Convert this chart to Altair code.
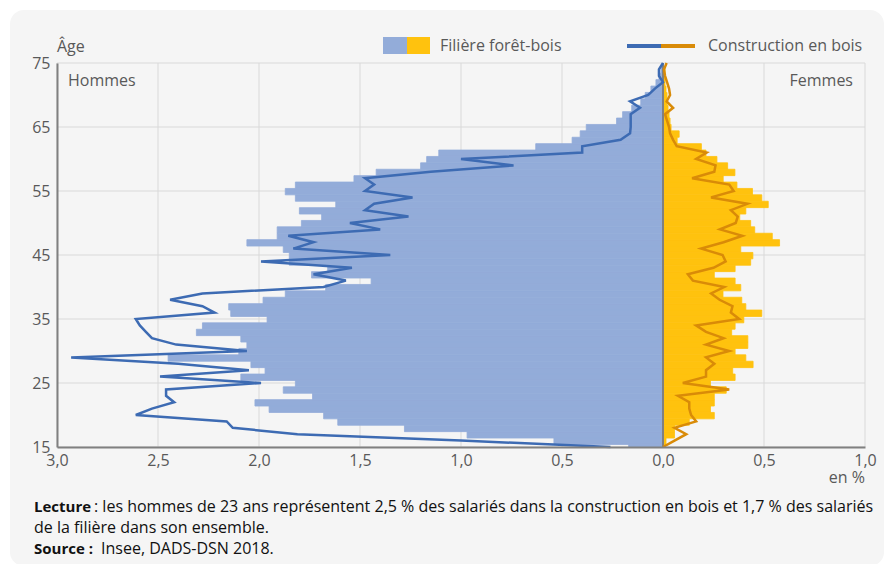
import altair as alt
import pandas as pd

# ---------------- data ----------------
ages_bar = list(range(15, 75))
men_filiere = [0.17, 0.54, 0.97, 1.28, 1.61, 1.68, 1.95, 2.02, 1.735, 1.88,
               1.82, 2.09, 1.97, 2.04, 2.45, 2.10, 2.06, 2.09, 2.31, 2.28,
               1.96, 2.14, 2.15, 1.98, 1.87, 1.67, 1.445, 1.74, 1.66, 1.85,
               1.85, 1.88, 2.06, 1.91, 1.91, 1.79, 1.69, 1.80, 1.62, 1.82,
               1.87, 1.82, 1.53, 1.42, 1.20, 1.17, 1.11, 0.63, 0.45, 0.41,
               0.38, 0.23, 0.20, 0.155, 0.11, 0.088, 0.06, 0.035, 0.02, 0.01]
women_filiere = [0.01, 0.015, 0.057, 0.057, 0.13, 0.254, 0.235, 0.254, 0.254, 0.313,
                 0.235, 0.357, 0.345, 0.446, 0.41, 0.357, 0.42, 0.42, 0.34, 0.357,
                 0.40, 0.489, 0.41, 0.39, 0.297, 0.385, 0.357, 0.254, 0.357, 0.434,
                 0.445, 0.385, 0.577, 0.541, 0.454, 0.434, 0.38, 0.41, 0.521, 0.489,
                 0.443, 0.366, 0.298, 0.356, 0.32, 0.267, 0.213, 0.19, 0.07, 0.08,
                 0.04, 0.035, 0.03, 0.025, 0.02, 0.02, 0.015, 0.01, 0.01, 0.01]

ages_line = list(range(15, 76))
men_construction = [0.26, 1.00, 1.81, 2.13, 2.16, 2.61, 2.53, 2.42, 2.46, 2.46,
                    1.99, 2.49, 2.05, 2.40, 2.93, 2.06, 2.41, 2.53, 2.56, 2.59,
                    2.61, 2.22, 2.28, 2.44, 2.28, 1.68, 1.57, 1.73, 1.54, 1.99,
                    1.35, 1.83, 1.73, 1.855, 1.40, 1.55, 1.26, 1.475, 1.43, 1.24,
                    1.475, 1.43, 1.475, 1.15, 0.74, 1.00, 0.40, 0.40, 0.21, 0.163,
                    0.16, 0.16, 0.16, 0.114, 0.163, 0.073, 0.04, 0.0, 0.02, 0.02, 0.0]
women_construction = [0.0, 0.057, 0.115, 0.057, 0.164, 0.139, 0.13, 0.13, 0.074, 0.328,
                      0.098, 0.213, 0.213, 0.254, 0.213, 0.328, 0.213, 0.30, 0.213, 0.164,
                      0.377, 0.336, 0.344, 0.28, 0.238, 0.303, 0.148, 0.123, 0.25, 0.31,
                      0.295, 0.189, 0.30, 0.393, 0.282, 0.36, 0.37, 0.336, 0.418, 0.238,
                      0.35, 0.328, 0.144, 0.254, 0.26, 0.164, 0.216, 0.068, 0.05, 0.035,
                      0.03, 0.02, 0.01, 0.05, 0.018, 0.035, 0.03, 0.02, 0.01, 0.005, 0.018]

x_ticks = [-3.0, -2.5, -2.0, -1.5, -1.0, -0.5, 0.0, 0.5, 1.0]
y_ticks = [15, 25, 35, 45, 55, 65, 75]

FONT = "Open Sans"
GREY = "#595959"
DARK = "#111111"
BLUE_BAR = "#93acd9"
YELLOW_BAR = "#ffc20e"
BLUE_LINE = "#3d6bb3"
ORANGE_LINE = "#d98b08"
GRID = "#d9d9d9"
FS = 16

bars = pd.DataFrame({"age": ages_bar, "men": men_filiere, "women": women_filiere})
lines = pd.DataFrame({"age": ages_line, "men": men_construction, "women": women_construction})

xscale = alt.Scale(domain=[-3, 1], nice=False, zero=False)
yscale = alt.Scale(domain=[15, 75], nice=False, zero=False)

x_axis = alt.Axis(values=x_ticks, title=None, grid=False, zindex=1,
                  ticks=False, domainColor="#808080", domainWidth=2, labelFlush=False,
                  labelExpr="replace(format(abs(datum.value), '.1f'), '.', ',')",
                  labelFont=FONT, labelFontSize=FS, labelColor=GREY, labelPadding=5)
y_axis = alt.Axis(values=y_ticks, title=None, grid=False, zindex=1,
                  ticks=False, domainColor="#808080", domainWidth=2, labelFlush=False,
                  labelFont=FONT, labelFontSize=FS, labelColor=GREY, labelPadding=7)

# rounded card behind everything
card = alt.Chart(pd.DataFrame({"a": [0]})).mark_rect(color="#f5f5f5", cornerRadius=14).encode(
    x=alt.value(-47), x2=alt.value(827), y=alt.value(-53), y2=alt.value(503))

# grid lines (drawn above the card, below the bars)
vgrid = alt.Chart(pd.DataFrame({"v": x_ticks})).mark_rule(color=GRID, strokeWidth=1).encode(
    x=alt.X("v:Q", scale=xscale), y=alt.value(0), y2=alt.value(384))
hgrid = alt.Chart(pd.DataFrame({"v": y_ticks})).mark_rule(color=GRID, strokeWidth=1).encode(
    y=alt.Y("v:Q", scale=yscale), x=alt.value(0), x2=alt.value(808))

base_bar = alt.Chart(bars).transform_calculate(
    lo="max(datum.age - 0.6, 15)", hi="datum.age + 0.4", zero="0",
    mneg="-datum.men")

men_bars = base_bar.mark_rect(color=BLUE_BAR, stroke=BLUE_BAR, strokeWidth=0.8).encode(
    x=alt.X("mneg:Q", scale=xscale, axis=x_axis),
    x2="zero:Q",
    y=alt.Y("lo:Q", scale=yscale, axis=y_axis),
    y2="hi:Q")
women_bars = base_bar.mark_rect(color=YELLOW_BAR, stroke=YELLOW_BAR, strokeWidth=0.8).encode(
    x=alt.X("zero:Q", scale=xscale),
    x2="women:Q",
    y=alt.Y("lo:Q", scale=yscale),
    y2="hi:Q")

zero_rule = alt.Chart(pd.DataFrame({"x": [0]})).mark_rule(color="#808080", strokeWidth=2).encode(
    x=alt.X("x:Q", scale=xscale), y=alt.value(0), y2=alt.value(384))

base_line = alt.Chart(lines).transform_calculate(mneg="-datum.men")
men_line = base_line.mark_line(color=BLUE_LINE, strokeWidth=2.5).encode(
    x=alt.X("mneg:Q", scale=xscale), y=alt.Y("age:Q", scale=yscale),
    order=alt.Order("age:Q"))
women_line = base_line.mark_line(color=ORANGE_LINE, strokeWidth=2.5).encode(
    x=alt.X("women:Q", scale=xscale), y=alt.Y("age:Q", scale=yscale),
    order=alt.Order("age:Q"))


def label(txt, x, y, align="left", size=FS, color=GREY, weight="normal"):
    return alt.Chart(pd.DataFrame({"t": [txt]})).mark_text(
        align=align, baseline="middle", font=FONT, fontSize=size, color=color,
        fontWeight=weight).encode(text="t:N", x=alt.value(x), y=alt.value(y))


def swatch(x1, x2, y1, y2, color):
    return alt.Chart(pd.DataFrame({"a": [0]})).mark_rect(color=color).encode(
        x=alt.value(x1), x2=alt.value(x2), y=alt.value(y1), y2=alt.value(y2))


def seg(x1, x2, y, color):
    return alt.Chart(pd.DataFrame({"a": [0]})).mark_rule(color=color, strokeWidth=4).encode(
        x=alt.value(x1), x2=alt.value(x2), y=alt.value(y))


annotations = [
    label("Âge", 0, -16),
    label("Hommes", 11, 18),
    label("Femmes", 796, 18, align="right"),
    label("en %", 808, 415, align="right"),
    swatch(326, 350, -26, -9, BLUE_BAR),
    swatch(350, 373, -26, -9, YELLOW_BAR),
    label("Filière forêt-bois", 383, -17),
    seg(570, 604, -17, BLUE_LINE),
    seg(604, 638, -17, ORANGE_LINE),
    label("Construction en bois", 651, -17),
    label("Lecture", -23, 444, color=DARK, weight="bold", size=15),
    label(": les hommes de 23 ans représentent 2,5 % des salariés dans la construction en bois et 1,7 % des salariés",
          37, 444, color=DARK, size=16),
    label("de la filière dans son ensemble.", -23, 465, color=DARK, size=16),
    label("Source :", -23, 486, color=DARK, weight="bold", size=15),
    label("Insee, DADS-DSN 2018.", 44, 486, color=DARK, size=16),
]

chart = alt.layer(card, vgrid, hgrid, men_bars, women_bars, zero_rule, men_line, women_line,
                  *annotations).properties(
    width=808, height=384,
    autosize=alt.AutoSizeParams(type="none"),
    padding={"left": 49, "top": 55, "right": 19, "bottom": 117},
    background="#ffffff",
).configure_view(stroke=None)

chart.save("out.html", embed_options={"renderer": "svg", "actions": False})
